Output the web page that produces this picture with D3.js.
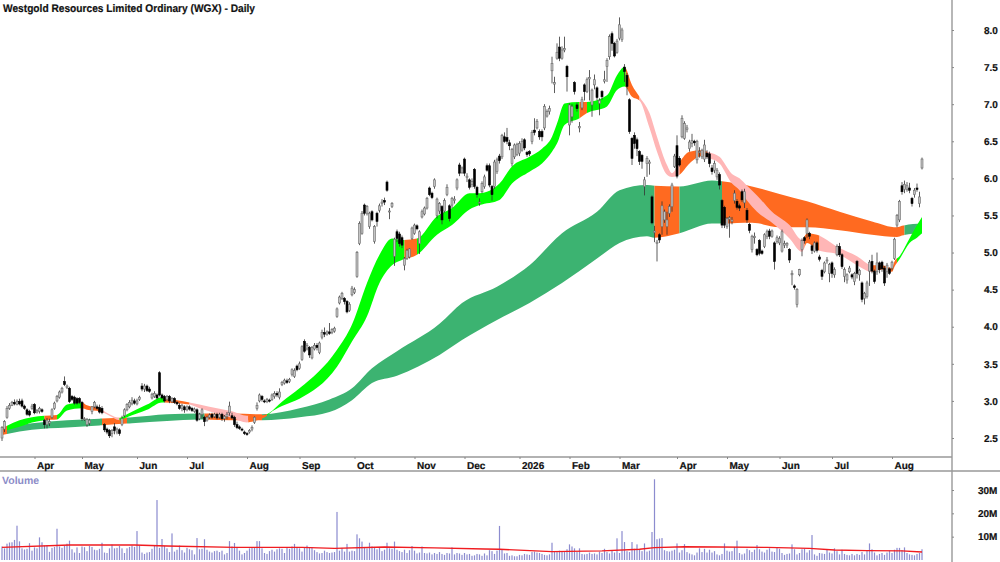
<!DOCTYPE html>
<html>
<head>
<meta charset="utf-8">
<script src="https://cdnjs.cloudflare.com/ajax/libs/d3/7.8.5/d3.min.js"></script>
<style>
	html, body { margin: 0; padding: 0; background: #fff; }
	svg { display: block; }
	text { font-family: "Liberation Sans", Arial, sans-serif; font-weight: bold; text-rendering: geometricPrecision; }
</style>
</head>
<body>
<div id="chart"></div>
<script>
// daily candles, one row = 10 sessions
var opens = [
	2.50,2.62,2.78,2.90,2.94,2.98,2.95,2.99,3.00,2.93,
	2.88,2.86,2.90,2.95,2.85,2.86,2.88,2.74,2.68,2.70,
	2.78,2.90,3.00,3.05,3.12,3.26,3.18,3.17,3.06,3.05,
	3.03,3.03,2.98,2.75,2.68,2.70,2.86,2.92,2.92,2.91,
	2.90,2.68,2.62,2.60,2.56,2.65,2.58,2.61,2.68,2.80,
	2.88,2.92,2.96,3.00,2.96,3.02,3.20,3.16,3.20,3.16,
	3.04,3.06,3.08,3.38,3.08,3.06,3.02,3.06,2.99,3.03,
	2.98,2.94,2.90,2.92,2.88,2.92,2.90,2.86,2.88,2.76,
	2.82,2.78,2.74,2.78,2.82,2.79,2.82,2.78,2.82,2.76,
	2.79,2.84,2.80,2.78,2.68,2.65,2.62,2.58,2.56,2.58,
	2.62,2.71,2.90,3.00,3.06,3.00,2.99,3.01,3.02,3.06,
	3.10,3.05,3.22,3.24,3.27,3.26,3.36,3.33,3.47,3.44,
	3.56,3.80,3.70,3.72,3.58,3.70,3.75,3.65,3.86,3.92,
	3.90,3.93,3.92,3.94,4.14,4.32,4.38,4.38,4.34,4.22,
	4.43,4.46,4.68,5.12,5.26,5.64,5.53,5.35,5.55,5.15,
	5.53,5.57,5.66,5.70,5.95,5.55,5.62,4.95,5.28,5.25,
	5.20,4.83,4.92,4.94,5.19,5.26,5.36,5.12,5.48,5.52,
	5.60,5.87,5.80,5.89,5.50,5.56,5.62,5.56,5.78,5.63,
	5.64,5.70,5.87,6.18,6.08,6.26,6.01,5.98,5.92,6.12,
	5.88,5.67,5.82,5.89,6.17,6.17,5.89,5.89,6.09,6.30,
	6.29,6.56,6.55,6.48,6.20,6.29,6.32,6.34,6.38,6.52,
	6.35,6.36,6.50,6.65,6.68,6.63,6.63,6.68,6.84,6.90,
	7.45,7.27,7.62,7.77,7.62,7.73,7.51,6.72,6.83,7.29,
	6.99,6.68,6.95,7.26,7.17,7.34,6.99,7.26,7.22,7.01,
	7.17,7.31,7.51,7.64,7.95,7.82,7.70,7.89,7.87,7.50,
	7.39,7.06,6.54,6.58,6.52,6.36,6.31,5.89,6.20,6.20,
	5.75,5.27,5.12,5.24,5.35,5.44,5.35,5.53,5.62,6.16,
	6.44,6.27,6.56,6.54,6.66,6.40,6.47,6.50,6.25,6.35,
	6.29,6.26,6.34,6.33,6.14,6.11,6.02,6.05,5.70,5.61,
	5.35,5.45,5.42,5.70,5.69,5.63,5.82,5.67,5.57,5.38,
	5.04,5.20,5.04,5.16,5.02,5.08,5.22,5.29,5.22,5.13,
	5.15,5.13,5.02,5.10,5.10,5.04,4.70,4.55,4.30,4.70,
	5.04,5.20,5.26,5.26,5.09,5.02,5.13,4.94,4.76,4.74,
	4.89,4.72,4.86,4.70,4.97,5.08,4.97,4.68,4.63,4.74,
	4.70,4.61,4.88,4.70,4.59,4.38,4.41,4.75,4.88,4.75,
	4.74,4.86,4.87,4.79,4.74,4.78,4.79,4.92,5.37,5.44,
	5.90,5.85,5.85,5.87,5.73,5.78,5.87,5.66,6.14
];
var closes = [
	2.64,2.72,2.90,2.94,2.98,2.96,2.99,2.96,2.93,2.90,
	2.82,2.81,2.93,2.84,2.87,2.90,2.86,2.68,2.74,2.72,
	2.88,2.97,3.06,3.12,3.17,3.22,3.20,2.99,3.02,2.97,
	2.97,2.98,2.76,2.76,2.75,2.74,2.92,2.98,2.90,2.85,
	2.84,2.61,2.58,2.53,2.60,2.60,2.62,2.56,2.76,2.88,
	2.95,2.98,3.01,2.97,3.00,3.05,3.16,3.20,3.14,3.13,
	3.09,3.10,3.04,3.08,3.04,3.00,3.06,3.00,3.03,2.98,
	2.96,2.90,2.94,2.88,2.92,2.89,2.87,2.89,2.74,2.82,
	2.88,2.72,2.78,2.81,2.78,2.82,2.77,2.82,2.76,2.79,
	2.82,2.93,2.77,2.68,2.64,2.63,2.61,2.56,2.55,2.60,
	2.64,2.78,2.94,3.08,3.02,2.99,3.02,3.00,3.08,3.10,
	3.08,3.12,3.25,3.28,3.25,3.29,3.42,3.41,3.42,3.50,
	3.73,3.67,3.75,3.62,3.72,3.75,3.72,3.78,3.92,3.90,
	3.93,3.91,3.96,3.98,4.24,4.40,4.45,4.34,4.20,4.30,
	4.52,4.50,5.00,5.39,5.53,5.53,5.62,5.53,5.44,5.35,
	5.42,5.63,5.68,5.68,5.84,5.56,5.66,5.18,5.19,5.12,
	5.10,4.92,5.03,5.05,5.33,5.37,5.32,5.28,5.55,5.60,
	5.73,5.78,5.74,5.98,5.72,5.66,5.44,5.70,5.88,5.46,
	5.73,5.72,5.98,6.07,6.14,6.07,6.03,5.88,5.96,5.89,
	5.78,5.68,5.93,6.02,6.11,5.91,5.78,6.22,6.25,6.24,
	6.58,6.50,6.50,6.44,6.39,6.45,6.46,6.47,6.50,6.41,
	6.32,6.33,6.62,6.62,6.77,6.56,6.56,6.97,6.90,6.94,
	7.55,7.29,7.70,7.62,7.73,7.75,7.37,6.99,6.97,7.17,
	6.94,6.70,7.06,7.17,7.33,7.36,7.19,7.33,7.09,7.05,
	7.10,7.33,7.59,7.91,7.82,7.65,7.85,8.07,8.00,7.44,
	7.24,6.63,6.27,6.47,6.40,6.23,6.23,5.98,6.27,6.22,
	5.40,5.29,5.14,5.17,5.63,5.55,5.44,5.62,5.91,6.30,
	6.03,6.18,6.81,6.74,6.68,6.49,6.51,6.48,6.50,6.36,
	6.38,6.45,6.29,6.20,6.09,6.20,6.11,5.91,5.37,5.37,
	5.46,5.47,5.44,5.80,5.61,5.60,5.71,5.82,5.44,5.30,
	5.22,5.22,4.97,4.99,4.99,5.24,5.28,5.22,5.29,4.88,
	5.20,5.19,5.28,5.12,5.12,4.90,4.72,4.53,4.50,4.77,
	5.16,5.16,5.44,5.22,5.03,5.13,5.03,4.91,4.68,4.86,
	4.90,4.84,4.72,4.77,5.08,4.97,4.81,4.77,4.70,4.79,
	4.67,4.72,4.72,4.76,4.37,4.45,4.59,4.87,4.75,4.61,
	4.86,4.77,4.78,4.59,4.83,4.72,4.87,5.18,5.50,5.69,
	5.82,5.92,5.90,5.84,5.66,5.84,5.85,5.75,6.26
];
var highs = [
	2.66,2.74,2.93,2.97,3.00,3.02,3.02,3.03,3.03,2.95,
	2.90,2.88,2.96,2.97,2.89,2.92,2.90,2.76,2.77,2.76,
	2.90,2.99,3.08,3.14,3.19,3.33,3.22,3.19,3.08,3.07,
	3.05,3.05,3.00,2.78,2.77,2.76,2.93,3.00,2.95,2.95,
	2.93,2.70,2.64,2.62,2.62,2.70,2.64,2.63,2.80,2.90,
	2.97,3.01,3.05,3.03,3.03,3.07,3.24,3.23,3.22,3.19,
	3.11,3.13,3.10,3.40,3.10,3.08,3.08,3.08,3.05,3.05,
	3.00,2.97,2.96,2.94,2.94,2.94,2.92,2.91,2.90,2.84,
	2.90,2.80,2.80,2.83,2.84,2.84,2.84,2.84,2.84,2.81,
	2.85,2.99,2.84,2.80,2.72,2.67,2.64,2.60,2.58,2.62,
	2.67,2.79,2.98,3.10,3.08,3.02,3.04,3.03,3.10,3.13,
	3.13,3.17,3.27,3.30,3.30,3.31,3.44,3.44,3.49,3.53,
	3.75,3.83,3.78,3.74,3.74,3.78,3.78,3.80,3.96,3.99,
	3.95,4.05,3.98,4.00,4.26,4.42,4.47,4.40,4.36,4.33,
	4.55,4.53,5.02,5.42,5.56,5.66,5.64,5.55,5.57,5.37,
	5.55,5.66,5.72,5.74,5.97,5.60,5.68,5.20,5.31,5.28,
	5.23,4.94,5.05,5.06,5.35,5.39,5.38,5.30,5.58,5.62,
	5.75,5.89,5.82,6.00,5.74,5.68,5.64,5.73,5.92,5.65,
	5.75,5.76,6.00,6.21,6.16,6.28,6.07,6.00,6.00,6.14,
	5.90,5.73,5.96,6.05,6.20,6.20,5.91,6.25,6.28,6.33,
	6.60,6.62,6.68,6.52,6.41,6.47,6.48,6.50,6.54,6.54,
	6.37,6.38,6.65,6.81,6.80,6.66,6.66,7.00,6.93,6.98,
	7.64,7.37,7.82,7.91,7.78,7.91,7.53,7.01,7.00,7.31,
	7.02,6.76,7.10,7.28,7.36,7.46,7.21,7.40,7.24,7.08,
	7.19,7.45,7.62,7.94,7.98,7.84,7.88,8.17,8.03,7.54,
	7.42,7.08,6.56,6.62,6.55,6.38,6.33,6.02,6.30,6.25,
	5.77,5.36,5.17,5.26,5.69,5.58,5.55,5.65,5.94,6.33,
	6.58,6.30,6.85,6.77,6.72,6.52,6.60,6.52,6.52,6.42,
	6.40,6.52,6.38,6.36,6.18,6.24,6.14,6.08,5.72,5.63,
	5.48,5.49,5.48,5.84,5.72,5.66,5.85,5.86,5.60,5.40,
	5.24,5.27,5.06,5.18,5.04,5.26,5.31,5.32,5.31,5.15,
	5.23,5.22,5.31,5.16,5.14,5.06,4.76,4.57,4.52,4.78,
	5.19,5.22,5.46,5.28,5.11,5.15,5.15,4.97,4.78,4.88,
	4.94,4.86,4.88,4.80,5.11,5.13,4.99,4.80,4.72,4.82,
	4.72,4.74,4.90,4.78,4.61,4.47,4.62,4.90,4.97,4.77,
	5.00,4.88,4.89,4.82,4.86,4.80,4.89,5.20,5.52,5.71,
	5.95,5.97,5.95,5.94,5.75,5.87,5.93,5.82,6.28
];
var lows = [
	2.46,2.58,2.76,2.88,2.93,2.94,2.94,2.94,2.91,2.88,
	2.80,2.79,2.88,2.82,2.83,2.83,2.84,2.63,2.63,2.66,
	2.76,2.88,2.98,3.03,3.10,3.20,3.16,2.97,3.00,2.95,
	2.95,2.96,2.73,2.73,2.65,2.67,2.82,2.90,2.88,2.83,
	2.82,2.58,2.55,2.50,2.51,2.55,2.55,2.53,2.66,2.78,
	2.86,2.90,2.94,2.95,2.94,3.00,3.13,3.12,3.12,3.11,
	3.02,3.04,3.02,3.06,3.02,2.98,3.00,2.97,2.97,2.96,
	2.94,2.88,2.86,2.84,2.86,2.87,2.85,2.84,2.72,2.74,
	2.76,2.66,2.72,2.76,2.76,2.77,2.75,2.76,2.73,2.72,
	2.75,2.80,2.75,2.65,2.62,2.61,2.59,2.54,2.53,2.56,
	2.59,2.69,2.87,2.98,2.99,2.97,2.97,2.98,3.00,3.03,
	3.05,3.02,3.20,3.22,3.23,3.24,3.33,3.31,3.40,3.42,
	3.54,3.65,3.68,3.58,3.56,3.68,3.68,3.63,3.83,3.86,
	3.88,3.89,3.90,3.92,4.12,4.30,4.36,4.30,4.18,4.20,
	4.41,4.44,4.66,5.10,5.24,5.50,5.50,5.32,5.42,5.12,
	5.35,5.54,5.62,5.64,5.82,5.45,5.60,4.82,5.14,5.08,
	5.06,4.76,4.90,4.92,5.17,5.24,5.30,4.98,5.46,5.50,
	5.58,5.76,5.72,5.86,5.46,5.52,5.38,5.54,5.76,5.42,
	5.60,5.66,5.84,6.03,6.06,6.03,5.95,5.85,5.88,5.86,
	5.74,5.63,5.80,5.86,6.09,5.88,5.70,5.86,6.06,6.20,
	6.26,6.48,6.46,6.38,6.16,6.26,6.30,6.30,6.36,6.38,
	6.29,6.30,6.46,6.58,6.66,6.52,6.50,6.65,6.82,6.86,
	7.28,7.15,7.60,7.58,7.60,7.70,7.17,6.58,6.75,7.13,
	6.90,6.62,6.92,7.05,7.15,7.05,6.83,7.20,7.05,6.85,
	7.06,7.28,7.30,7.60,7.72,7.63,7.68,7.86,7.84,7.30,
	7.12,6.60,6.18,6.40,6.30,6.18,6.13,5.77,6.02,6.05,
	5.38,5.14,4.88,5.13,5.24,5.40,5.24,5.48,5.55,6.14,
	6.00,6.16,6.54,6.52,6.62,6.36,6.42,6.44,6.20,6.28,
	6.26,6.22,6.26,6.15,6.05,6.07,5.98,5.85,5.33,5.33,
	5.32,5.20,5.38,5.66,5.58,5.56,5.68,5.60,5.40,5.26,
	5.00,5.12,4.95,4.96,4.97,5.06,5.18,5.18,5.20,4.77,
	5.12,5.10,5.00,5.06,5.06,4.86,4.56,4.50,4.26,4.68,
	4.95,5.12,5.20,5.18,4.98,5.00,5.00,4.88,4.63,4.72,
	4.85,4.60,4.66,4.66,4.95,4.94,4.78,4.60,4.58,4.72,
	4.64,4.56,4.65,4.62,4.33,4.30,4.38,4.55,4.72,4.58,
	4.70,4.72,4.74,4.55,4.66,4.70,4.76,4.90,5.34,5.41,
	5.78,5.80,5.82,5.80,5.62,5.74,5.82,5.61,6.12
];
// volume in millions
var volumes = [
	5.8,5.0,7.0,7.5,7.6,8.6,14.7,8.0,5.0,4.5,
	4.8,7.2,4.0,5.4,5.0,9.7,7.6,6.2,6.4,3.5,
	5.2,5.6,13.4,5.8,5.2,6.0,7.0,8.3,4.6,3.2,
	5.4,3.0,5.8,5.5,3.8,6.0,5.6,4.4,4.2,4.8,
	7.4,3.2,3.0,5.0,6.6,5.0,5.2,6.0,5.0,3.0,
	5.0,5.6,6.2,5.6,12.4,6.2,3.2,2.6,3.2,3.4,
	4.8,6.0,25.7,5.2,9.0,6.0,5.0,3.4,11.4,3.6,
	4.4,6.2,4.2,3.2,5.2,4.6,4.2,2.4,9.4,4.6,
	4.8,8.9,4.4,3.6,3.2,3.8,4.0,3.4,4.0,2.4,
	3.0,8.1,5.8,7.3,5.6,4.0,2.4,3.0,4.0,5.0,
	5.2,5.4,8.1,8.1,5.0,3.0,2.6,3.8,4.4,3.6,
	4.6,5.0,4.8,3.0,5.2,4.8,5.8,6.9,5.6,5.0,
	3.6,5.2,6.2,5.4,5.4,4.2,3.4,2.8,3.0,4.0,
	3.4,3.0,3.2,3.4,20.6,4.0,5.2,3.6,6.9,3.6,
	4.0,3.8,11.0,9.3,7.9,5.6,5.0,7.4,5.8,5.6,
	4.6,5.4,3.8,4.4,7.4,5.0,4.8,7.9,4.4,3.8,
	3.4,4.4,3.0,4.2,6.0,4.0,2.8,3.2,5.8,3.0,
	2.8,3.2,2.4,3.0,2.6,3.4,2.6,2.2,3.0,2.8,
	5.4,2.4,3.0,2.8,2.2,3.0,2.4,2.6,1.8,2.0,
	2.6,2.4,1.8,2.8,2.0,4.2,3.8,2.6,4.0,14.6,
	4.4,2.8,3.0,1.8,2.0,1.6,1.6,2.2,2.0,2.6,
	2.4,2.2,3.4,3.6,3.2,3.0,2.6,2.2,2.0,2.4,
	7.4,3.8,3.4,4.0,3.6,3.4,4.6,6.7,5.8,5.0,
	3.4,5.0,2.6,2.4,2.6,3.2,2.6,2.8,2.4,3.6,
	3.0,4.8,3.4,2.8,4.2,3.2,9.3,3.0,12.4,7.7,
	3.8,3.4,7.7,4.8,6.7,4.4,3.8,7.1,3.6,4.0,
	12.0,34.6,8.9,9.2,9.4,4.2,3.8,3.6,4.0,4.4,
	7.1,3.2,4.2,6.8,3.4,2.8,2.4,2.0,3.2,5.0,
	3.4,4.8,3.2,4.4,3.2,3.8,2.4,2.0,2.6,7.1,
	4.0,3.6,3.8,5.6,8.3,3.0,2.4,2.8,4.8,4.2,
	3.4,4.4,6.4,4.6,3.6,3.2,4.4,5.0,3.6,3.4,
	5.4,4.8,3.0,2.2,2.6,2.8,6.7,4.6,2.4,3.0,
	4.6,4.8,3.2,4.2,10.7,2.4,1.8,3.0,2.8,2.6,
	4.4,3.2,2.8,5.0,3.8,2.4,4.4,2.6,2.2,2.0,
	2.6,2.0,2.6,2.2,3.4,2.4,4.0,7.1,4.6,3.2,
	2.0,2.6,3.0,2.2,3.2,4.0,3.0,4.4,5.2,5.2,
	4.2,5.4,3.0,2.4,2.2,2.0,2.6,3.0,4.6
];
// volume average: session index, value in millions
var volAvgAt = [0,27,53,66,93,120,133,153,173,193,199,220,240,255,261,273,286,306,323,333,346,360,368];
var volAvg = [5.4,6.4,6.4,6.0,5.4,5.4,5.0,5.6,5.2,4.7,4.6,3.6,3.9,4.6,5.3,5.7,5.6,5.4,5.0,4.3,4.0,3.9,3.4];

// short term band: session index, top and bottom price
var shortAt = [
	0,7,12,17,22,26,32,34,39,43,
	47,50,58,64,70,75,79,86,92,98,
	102,106,107,112,119,134,140,146,151,156,
	160,166,174,180,187,191,199,204,211,216,
	220,222,225,231,234,242,246,249,252,255,
	259,262,266,268,271,275,280,283,287,292,
	295,298,302,308,315,320,322,326,335,342,
	348,352,356,357,359,363,366,368
];
var shortTop = [
	2.63,2.74,2.78,2.80,2.81,2.95,2.98,2.94,2.90,2.82,
	2.77,2.82,2.95,3.05,3.01,2.98,2.95,2.90,2.86,2.80,
	2.80,2.82,2.84,2.99,3.17,3.69,4.03,4.59,4.97,5.19,
	5.17,5.19,5.49,5.60,5.80,5.80,5.93,6.16,6.29,6.40,
	6.56,6.74,7.01,7.03,7.03,7.12,7.39,7.50,7.26,7.10,
	6.88,6.56,6.18,6.07,6.22,6.36,6.38,6.35,6.29,6.06,
	6.00,5.90,5.77,5.55,5.37,5.17,5.26,5.24,5.06,4.95,
	4.83,4.83,4.79,4.88,4.95,5.19,5.37,5.48
];
var shortBot = [
	2.59,2.65,2.71,2.74,2.75,2.87,2.90,2.88,2.86,2.80,
	2.74,2.78,2.88,2.98,2.97,2.95,2.90,2.83,2.77,2.71,
	2.74,2.80,2.83,2.93,3.03,3.46,3.80,4.14,4.59,4.83,
	4.90,4.97,5.24,5.37,5.58,5.64,5.71,5.93,6.09,6.20,
	6.36,6.47,6.72,6.81,6.88,6.97,7.19,7.24,7.10,7.05,
	6.68,6.36,6.05,6.02,6.05,6.20,6.30,6.27,6.20,5.93,
	5.84,5.70,5.55,5.40,5.19,5.01,5.13,5.04,4.97,4.83,
	4.74,4.77,4.74,4.81,4.91,5.13,5.20,5.26
];
// long term band
var longAt = [
	0,12,26,39,52,66,79,92,104,119,
	131,140,148,158,175,184,198,211,224,238,
	247,258,261,271,284,288,300,311,322,335,
	348,358,360,368
];
var longTop = [
	2.64,2.70,2.74,2.76,2.78,2.82,2.83,2.83,2.82,2.90,
	3.02,3.17,3.44,3.67,4.04,4.32,4.54,4.83,5.26,5.55,
	5.84,5.91,5.90,5.89,5.97,5.96,5.89,5.79,5.69,5.55,
	5.42,5.34,5.36,5.39
];
var longBot = [
	2.54,2.61,2.64,2.67,2.70,2.73,2.75,2.74,2.74,2.78,
	2.85,3.01,3.24,3.34,3.62,3.82,4.09,4.32,4.59,4.92,
	5.13,5.22,5.20,5.26,5.39,5.39,5.40,5.34,5.34,5.30,
	5.24,5.21,5.23,5.26
];

// trend colouring of the bands: each entry runs up to the session in the *Ends list
var shortEnds = [2,17,22,32,40,47,65,75,98.5,106,161,166,231,234,249.5,255,271,282,321,327,348,358,368.5];
var shortTrend = ["mid","up","mid","up","mid","down","up","mid","down","mid","up","mid","up","mid","up","mid","down","mid","down","mid","down","mid","up"];
var longEnds = [2,40,50,81,104,261,271,288,361,368.5];
var longTrend = ["mid","up","mid","up","mid","up","mid","up","mid","up"];

var monthAt = [13,32,54,74,98,119,141,165,185,207,227,247,270,290,311,332,356];
var monthLabels = ["Apr","May","Jun","Jul","Aug","Sep","Oct","Nov","Dec","2026","Feb","Mar","Apr","May","Jun","Jul","Aug"];
var priceTicks = [2.5,3,3.5,4,4.5,5,5.5,6,6.5,7,7.5,8];
var volumeTicks = [10,20,30];

var width = 1000;
var height = 562;
var axisX = 952;

var shortColors = { up: "#00ff00", mid: "#ff6a20", down: "#ffb6b6" };
var longColors = { up: "#3cb371", mid: "#ff6a20" };

var svg = d3.select("#chart").append("svg")
	.attr("width", width)
	.attr("height", height);

var x = d3.scaleLinear().domain([0, 368]).range([2, 922]);
var y = d3.scaleLinear().domain([2.5, 8]).range([438, 30]);
var yVol = d3.scaleLinear().domain([0, 30]).range([560, 490]);

// a band is split in coloured pieces, every piece is the same area clipped to its sessions
function drawBand(name, at, top, bot, ends, trend, colors) {
	var rows = at.map(function(d, i) { return { at: d, top: top[i], bot: bot[i] }; });
	var area = d3.area()
		.x(function(d) { return x(d.at); })
		.y0(function(d) { return y(d.bot); })
		.y1(function(d) { return y(d.top); })
		.curve(d3.curveMonotoneX);
	var g = svg.append("g");
	ends.forEach(function(end, i) {
		var start = i == 0 ? 0 : ends[i - 1];
		var id = name + "_" + i;
		svg.append("clipPath").attr("id", id).append("rect")
			.attr("x", x(start))
			.attr("y", 0)
			.attr("width", x(end) - x(start))
			.attr("height", 460);
		g.append("path")
			.attr("d", area(rows))
			.attr("clip-path", "url(#" + id + ")")
			.attr("fill", colors[trend[i]]);
	});
}

drawBand("long", longAt, longTop, longBot, longEnds, longTrend, longColors);
drawBand("short", shortAt, shortTop, shortBot, shortEnds, shortTrend, shortColors);

// candles
var candles = svg.append("g").selectAll("g")
	.data(opens)
	.enter()
	.append("g");

candles.append("line")
	.attr("x1", function(d, i) { return x(i); })
	.attr("x2", function(d, i) { return x(i); })
	.attr("y1", function(d, i) { return y(highs[i]); })
	.attr("y2", function(d, i) { return y(lows[i]); })
	.attr("stroke", "#333")
	.attr("stroke-width", 0.8);

candles.append("rect")
	.attr("x", function(d, i) { return x(i) - 1; })
	.attr("width", 2)
	.attr("y", function(d, i) { return y(Math.max(d, closes[i])); })
	.attr("height", function(d, i) { return Math.max(1, Math.abs(y(d) - y(closes[i]))); })
	.attr("fill", function(d, i) { return closes[i] < d ? "#000" : "#c4c4c4"; })
	.attr("stroke", function(d, i) { return closes[i] < d ? "#000" : "#6a6a6a"; })
	.attr("stroke-width", 0.6);

// volume
svg.append("g").selectAll("rect")
	.data(volumes)
	.enter()
	.append("rect")
	.attr("x", function(d, i) { return x(i) - 0.6; })
	.attr("width", 1.2)
	.attr("y", function(d) { return yVol(d); })
	.attr("height", function(d) { return yVol(0) - yVol(d); })
	.attr("fill", "#8c8ccf");

svg.append("path")
	.datum(volAvg)
	.attr("d", d3.line()
		.x(function(d, i) { return x(volAvgAt[i]); })
		.y(function(d) { return yVol(d); }))
	.attr("fill", "none")
	.attr("stroke", "#f01c20")
	.attr("stroke-width", 1.4);

// frame lines
var frame = [[0, 457, axisX, 457], [0, 471, width, 471], [axisX, 0, axisX, height]];
svg.append("g").selectAll("line")
	.data(frame)
	.enter()
	.append("line")
	.attr("x1", function(d) { return d[0]; })
	.attr("y1", function(d) { return d[1]; })
	.attr("x2", function(d) { return d[2]; })
	.attr("y2", function(d) { return d[3]; })
	.attr("stroke", "#999")
	.attr("stroke-width", 1.4);

// axes
var priceAxis = svg.append("g")
	.attr("transform", "translate(" + axisX + ",0)")
	.call(d3.axisRight(y)
		.tickValues(priceTicks)
		.tickFormat(d3.format(".1f"))
		.tickSize(2)
		.tickPadding(30));

var volumeAxis = svg.append("g")
	.attr("transform", "translate(" + axisX + ",0)")
	.call(d3.axisRight(yVol)
		.tickValues(volumeTicks)
		.tickFormat(function(d) { return d + "M"; })
		.tickSize(2)
		.tickPadding(24));

var monthAxis = svg.append("g")
	.attr("transform", "translate(0,457)")
	.call(d3.axisBottom(x)
		.tickValues(monthAt)
		.tickFormat(function(d, i) { return monthLabels[i]; })
		.tickSize(2)
		.tickPadding(3));

monthAxis.selectAll("text").attr("text-anchor", "start").attr("dx", 2);

[priceAxis, volumeAxis, monthAxis].forEach(function(a) {
	a.select(".domain").remove();
	a.selectAll("line").attr("stroke", "#888");
	a.selectAll("text")
		.attr("fill", "#111")
		.attr("stroke", "#111")
		.attr("stroke-width", 0.2)
		.style("font-size", "10px")
		.style("font-family", "'Liberation Sans', Arial, sans-serif")
		.style("font-weight", "bold");
});

svg.append("text")
	.attr("x", 3)
	.attr("y", 12)
	.attr("fill", "#111")
	.attr("stroke", "#111")
	.attr("stroke-width", 0.2)
	.attr("textLength", 252)
	.attr("lengthAdjust", "spacingAndGlyphs")
	.style("font-size", "11px")
	.text("Westgold Resources Limited Ordinary (WGX) - Daily");

svg.append("text")
	.attr("x", 2)
	.attr("y", 484)
	.attr("fill", "#8c8cc8")
	.style("font-size", "10.5px")
	.text("Volume");
</script>
</body>
</html>
